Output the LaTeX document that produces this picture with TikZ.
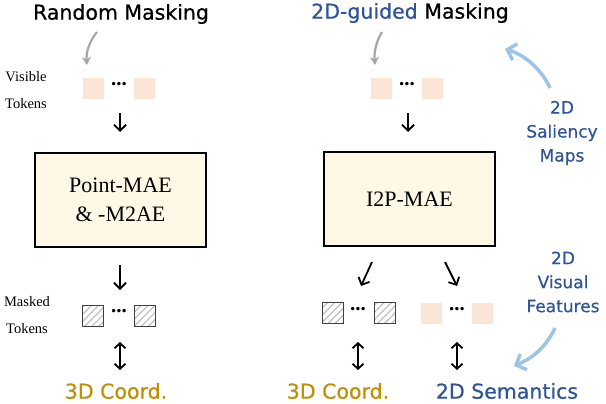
\documentclass[tikz,border=0pt]{standalone}
\usepackage{fontspec}
\setmainfont{Liberation Serif}
\newfontfamily\handfont[FakeBold=0.6]{DejaVu Sans}
\usepackage{tikz}
\usetikzlibrary{arrows.meta, patterns.meta}
\definecolor{tokpeach}{HTML}{FBE5D6}
\definecolor{boxcream}{HTML}{FFF8E6}
\definecolor{darkblue}{HTML}{2F5597}
\definecolor{darkgold}{HTML}{BF9000}
\definecolor{skyblue}{HTML}{9DC3E6}
\tikzstyle{heading} = [font=\handfont\fontsize{20.5}{22}\selectfont, inner sep=0pt]
\tikzstyle{side} = [font=\handfont\fontsize{17}{24}\selectfont, text=darkblue, align=center, inner sep=0pt]
\tikzstyle{label} = [font=\fontsize{14.5}{16}\selectfont, inner sep=0pt]
\tikzstyle{model} = [rectangle, minimum width=171pt, minimum height=94pt, text centered, align=center, draw=black, line width=1.8pt, fill=boxcream, font=\fontsize{22}{29}\selectfont]
\tikzstyle{vis} = [rectangle, minimum size=21pt, inner sep=0pt, fill=tokpeach]
\tikzstyle{msk} = [rectangle, minimum size=21pt, inner sep=0pt, draw=black!75, line width=0.8pt, pattern={Lines[angle=45, distance=5pt, line width=1.2pt]}, pattern color=black!25]
\tikzstyle{dots} = [font=\bfseries\fontsize{21}{21}\selectfont, inner sep=0pt]
\tikzstyle{arrow} = [line width=1.8pt, -{Straight Barb[length=6pt, width=12pt]}]
\tikzstyle{darrow} = [line width=1.8pt, {Straight Barb[length=5pt, width=11pt]}-{Straight Barb[length=5pt, width=11pt]}]
\tikzstyle{grayarrow} = [line width=2.2pt, draw=black!35, -{Stealth[length=8pt, width=9pt]}]
\tikzstyle{bluearrow} = [line width=3.5pt, draw=skyblue, -{Straight Barb[length=8pt, width=17pt]}]

\begin{document}
\begin{tikzpicture}[x=1pt, y=-1pt]
\useasboundingbox (0,0) rectangle (606,404);
% left: random masking
\node[heading] (randmask) at (121,14) {Random Masking};
\node[label] (visL1) at (26,77) {Visible};
\node[label] (visL2) at (26,104) {Tokens};
\node[vis] (visA) at (93.5,88.5) {};
\node[dots] (visdotsA) at (119,84) {...};
\node[vis] (visB) at (144,88.5) {};
\node[model] (pointmae) at (120.5,200) {Point-MAE\\\& -M2AE};
\node[label] (mskL1) at (27,302) {Masked};
\node[label] (mskL2) at (27,329) {Tokens};
\node[msk] (mskA) at (93,315.5) {};
\node[dots] (mskdotsA) at (119,311) {...};
\node[msk] (mskB) at (145,315.5) {};
\node[heading, text=darkgold] (coordA) at (116,391) {3D Coord.};
\coordinate (gA1) at (97,32);
\coordinate (gA2) at (87,65);
\coordinate (aA1) at (120,113);
\coordinate (aA2) at (120,132);
\coordinate (aA3) at (120,265);
\coordinate (aA4) at (120,290);
\coordinate (dA1) at (120,342);
\coordinate (dA2) at (120,370);
\draw[grayarrow] (gA1) .. controls (89,42) and (86,52) .. (gA2);
\draw[arrow] (aA1) -- (aA2);
\draw[arrow] (aA3) -- (aA4);
\draw[darrow] (dA1) -- (dA2);

% right: 2D-guided masking
\node[heading] (guidmask) at (410,13) {\textcolor{darkblue}{2D-guided} Masking};
\node[vis] (visC) at (381.5,88.5) {};
\node[dots] (visdotsC) at (407,84) {...};
\node[vis] (visD) at (432.5,88.5) {};
\node[model] (i2pmae) at (409.5,199) {I2P-MAE};
\node[msk] (mskC) at (332.5,313) {};
\node[dots] (mskdotsC) at (358,309) {...};
\node[msk] (mskD) at (385,313) {};
\node[vis] (visE) at (431.5,313) {};
\node[dots] (visdotsE) at (457,309) {...};
\node[vis] (visF) at (482.5,313) {};
\node[heading, text=darkgold] (coordB) at (338,391) {3D Coord.};
\node[heading, text=darkblue] (semantics) at (507,391) {2D Semantics};
\node[side] (saliency) at (562,133) {2D\\Saliency\\Maps};
\node[side] (visual) at (563,282) {2D\\Visual\\Features};
\coordinate (gB1) at (382,32);
\coordinate (gB2) at (375,65);
\coordinate (aB1) at (408,113);
\coordinate (aB2) at (408,132);
\coordinate (aB3) at (372,262);
\coordinate (aB4) at (361,286);
\coordinate (aB5) at (445,262);
\coordinate (aB6) at (457,286);
\coordinate (dB1) at (358,342);
\coordinate (dB2) at (358,370);
\coordinate (dB3) at (457,342);
\coordinate (dB4) at (457,370);
\coordinate (sal1) at (550,88);
\coordinate (sal2) at (505,49);
\coordinate (vf1) at (555,328);
\coordinate (vf2) at (514,366);
\draw[grayarrow] (gB1) .. controls (376,42) and (374,52) .. (gB2);
\draw[arrow] (aB1) -- (aB2);
\draw[arrow] (aB3) -- (aB4);
\draw[arrow] (aB5) -- (aB6);
\draw[darrow] (dB1) -- (dB2);
\draw[darrow] (dB3) -- (dB4);
\draw[bluearrow] (sal1) .. controls (542,70) and (525,55) .. (sal2);
\draw[bluearrow] (vf1) .. controls (547,345) and (535,357) .. (vf2);
\end{tikzpicture}
\end{document}
